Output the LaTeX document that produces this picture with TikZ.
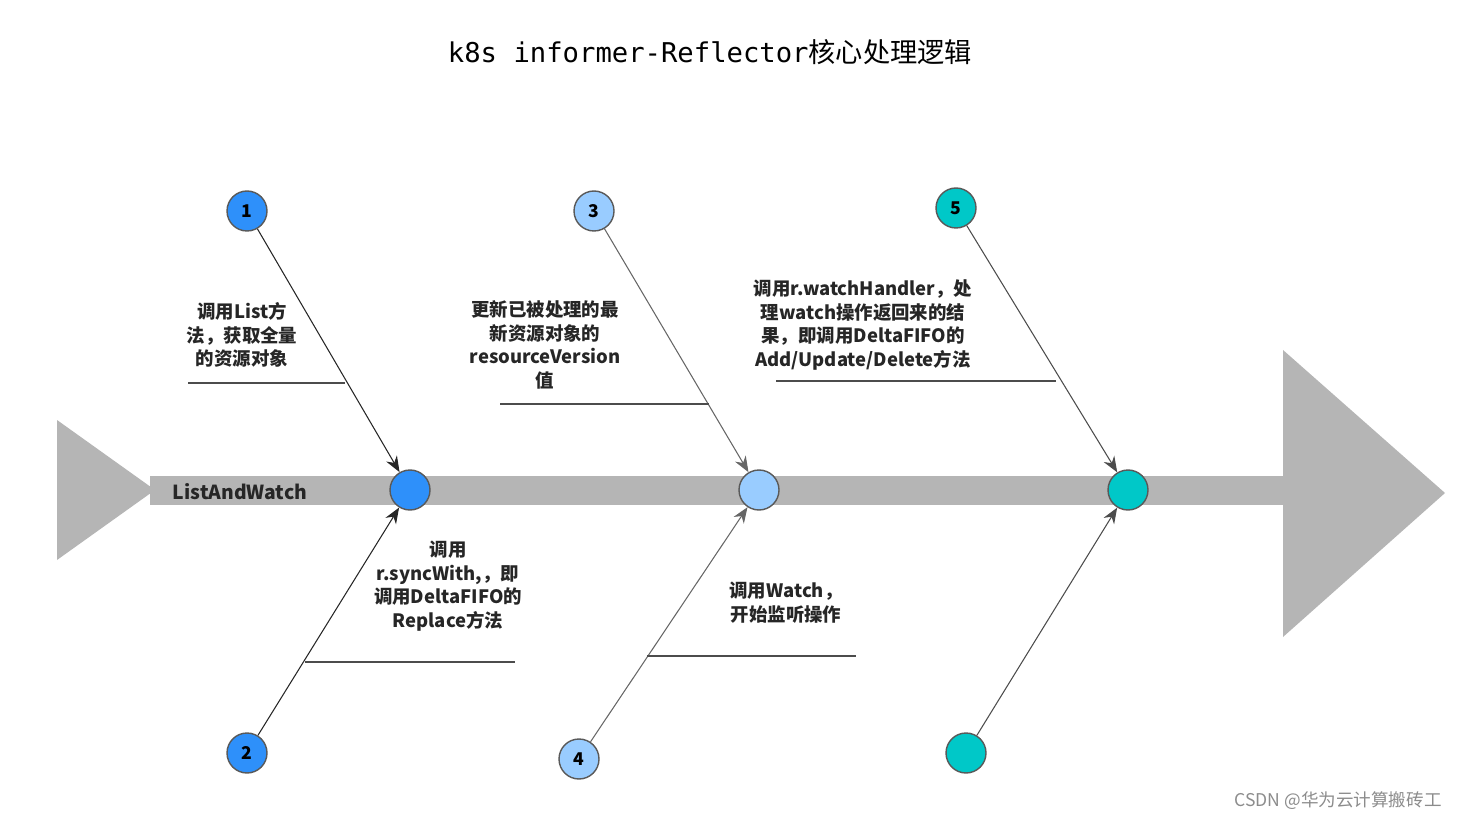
\documentclass[tikz,border=0pt]{standalone}
\usepackage{fontspec}
\setmainfont{Noto Sans CJK SC}
\newfontfamily\titlemono{DejaVu Sans Mono}
\newfontfamily\titlecjk{Noto Sans CJK SC}
\usetikzlibrary{arrows.meta}
\definecolor{blueA}{HTML}{2E90FA}
\definecolor{blueB}{HTML}{99CCFF}
\definecolor{tealC}{HTML}{00C8C8}
\definecolor{spine}{HTML}{B5B5B5}
\begin{document}
\begin{tikzpicture}[x=0.02cm,y=-0.02cm,
    dot/.style={circle, draw=gray!70!black, thick, minimum size=0.8cm, inner sep=0pt, font=\bfseries\fontsize{10}{12}\selectfont},
    lbl/.style={align=center, font=\bfseries\fontsize{10.5}{13.5}\selectfont, text=black!85},
    bar/.style={draw=black!70, line width=1.5pt},
    rib/.style={-{Stealth[length=9pt,width=7pt]}, line width=0.6pt}]
    \useasboundingbox (0,0) rectangle (1469,820);
    \node[font=\fontsize{15.5}{18}\selectfont] (title) at (710,52) {{\titlemono k8s informer-Reflector}{\titlecjk 核心处理逻辑}};
    % spine
    \fill[spine] (57,420) -- (155,490) -- (57,560) -- cycle;
    \fill[spine] (150,476) rectangle (1290,505);
    \fill[spine] (1283,350) -- (1445,493) -- (1283,637) -- cycle;
    \node[lbl, font=\bfseries\fontsize{11}{13}\selectfont] (law) at (240,492) {ListAndWatch};
    % circles on the spine
    \node[dot, fill=blueA] (a) at (410,490) {};
    \node[dot, fill=blueB] (b) at (759,490) {};
    \node[dot, fill=tealC] (c) at (1128,490) {};
    % outer circles
    \node[dot, fill=blueA] (1) at (247,211) {1};
    \node[dot, fill=blueA] (2) at (247,753) {2};
    \node[dot, fill=blueB] (3) at (594,211) {3};
    \node[dot, fill=blueB] (4) at (579,759) {4};
    \node[dot, fill=tealC] (5) at (956,208) {5};
    \node[dot, fill=tealC] (6) at (966,753) {};
    \draw[rib, black!85] (1) -- (a);
    \draw[rib, black!85] (2) -- (a);
    \draw[rib, black!60] (3) -- (b);
    \draw[rib, black!60] (4) -- (b);
    \draw[rib, black!70] (5) -- (c);
    \draw[rib, black!70] (6) -- (c);
    % labels
    \node[lbl] (t1) at (242,335) {调用List方\\法，获取全量\\的资源对象};
    \draw[bar] (188,383) -- (345,383);
    \node[lbl] (t2) at (448,586) {调用\\r.syncWith,，即\\调用DeltaFIFO的\\Replace方法};
    \draw[bar] (305,662) -- (515,662);
    \node[lbl] (t3) at (545,345) {更新已被处理的最\\新资源对象的\\resourceVersion\\值};
    \draw[bar] (500,404) -- (709,404);
    \node[lbl] (t4) at (786,603) {调用Watch，\\开始监听操作};
    \draw[bar] (647,656) -- (856,656);
    \node[lbl] (t5) at (863,325) {调用r.watchHandler，处\\理watch操作返回来的结\\果，即调用DeltaFIFO的\\Add/Update/Delete方法};
    \draw[bar] (776,381) -- (1056,381);
    \node[text=black!45, font=\fontsize{10}{12}\selectfont] (wm) at (1338,801) {CSDN @华为云计算搬砖工};
\end{tikzpicture}
\end{document}
